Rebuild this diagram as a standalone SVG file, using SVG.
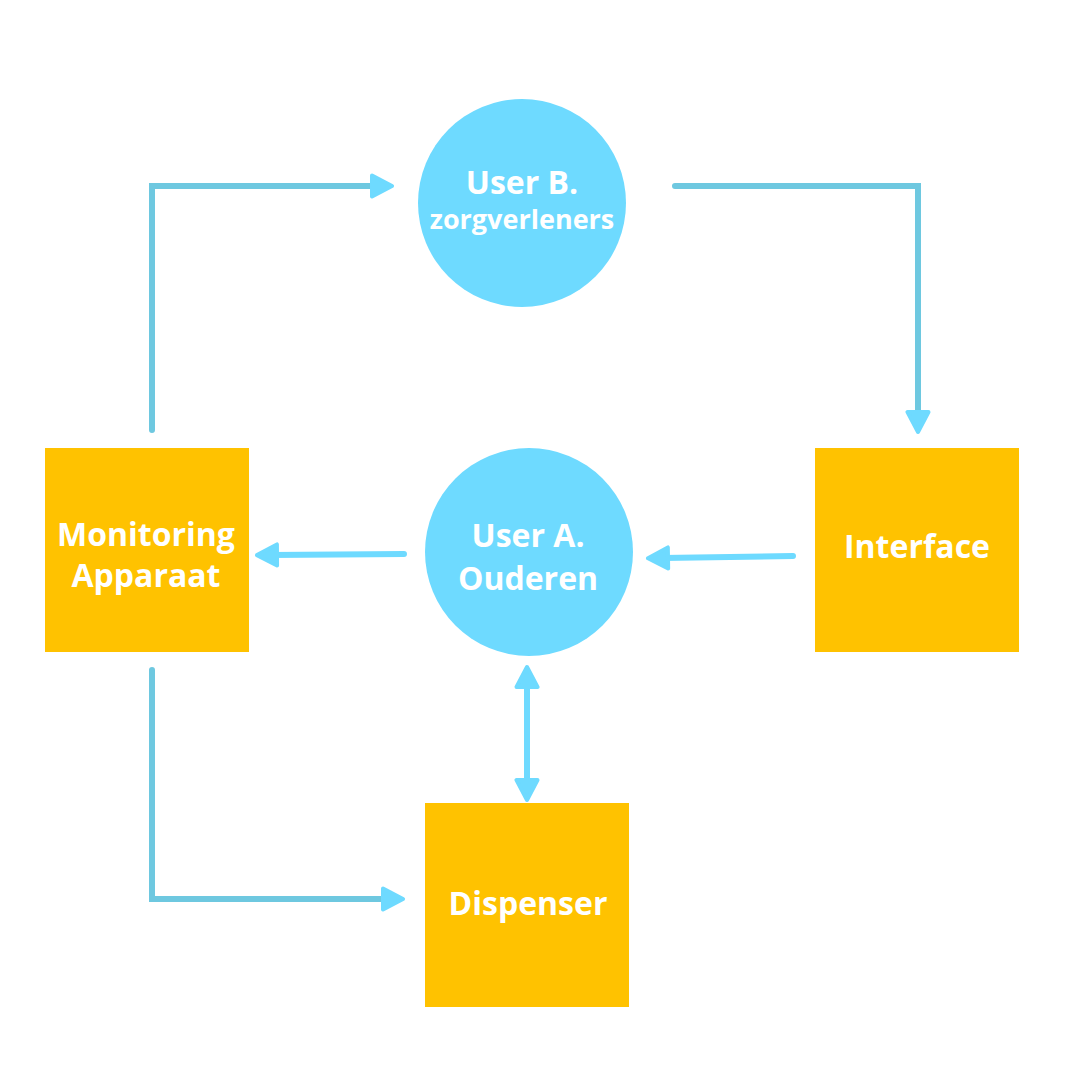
<svg xmlns="http://www.w3.org/2000/svg" width="1065" height="1080" viewBox="0 0 1065 1080">
  <style>
    .box { fill: #FFC200; }
    .user { fill: #6EDAFF; }
    .lbl { fill: #FFFFFF; font-family: "Open Sans", "Liberation Sans", sans-serif; font-weight: 700; text-anchor: middle; }
    .big { font-size: 32px; }
    .small { font-size: 27px; }
    .link { fill: none; stroke-width: 6; stroke-linecap: round; stroke-linejoin: miter; }
    .dark { stroke: #6EC8E0; }
    .light { stroke: #6EDAFF; }
  </style>
  <defs>
    <marker id="arr" viewBox="0 0 26 26" refX="9" refY="13" markerWidth="26" markerHeight="26" markerUnits="userSpaceOnUse" orient="auto-start-reverse">
      <path d="M3,2.5 L23,13 L3,23.5 Z" fill="#6EDAFF" stroke="#6EDAFF" stroke-width="4" stroke-linejoin="round"/>
    </marker>
  </defs>
  <rect width="1065" height="1080" fill="#FFFFFF"/>

  <g id="connectors">
    <path class="link dark" d="M152,430 L152,186 L378,186" marker-end="url(#arr)"/>
    <path class="link dark" d="M675,186 L918,186 L918,418" marker-end="url(#arr)"/>
    <path class="link light" d="M793,556 L662,558" marker-end="url(#arr)"/>
    <path class="link light" d="M404,554 L271,555" marker-end="url(#arr)"/>
    <path class="link dark" d="M152,670 L152,899 L389,899" marker-end="url(#arr)"/>
    <path class="link light" d="M527,681 L527,786" marker-start="url(#arr)" marker-end="url(#arr)"/>
  </g>

  <g id="userB">
    <circle class="user" cx="522" cy="203" r="104"/>
    <text class="lbl big" x="522" y="194">User B.</text>
    <text class="lbl small" x="522" y="229">zorgverleners</text>
  </g>

  <g id="userA">
    <circle class="user" cx="529" cy="552" r="104"/>
    <text class="lbl big" x="528" y="547">User A.</text>
    <text class="lbl big" x="528" y="590">Ouderen</text>
  </g>

  <g id="monitoring">
    <rect class="box" x="45" y="448" width="204" height="204"/>
    <text class="lbl big" x="146" y="546">Monitoring</text>
    <text class="lbl big" x="146" y="587">Apparaat</text>
  </g>

  <g id="interface">
    <rect class="box" x="815" y="448" width="204" height="204"/>
    <text class="lbl big" x="917" y="558">Interface</text>
  </g>

  <g id="dispenser">
    <rect class="box" x="425" y="803" width="204" height="204"/>
    <text class="lbl big" x="528" y="915">Dispenser</text>
  </g>
</svg>
